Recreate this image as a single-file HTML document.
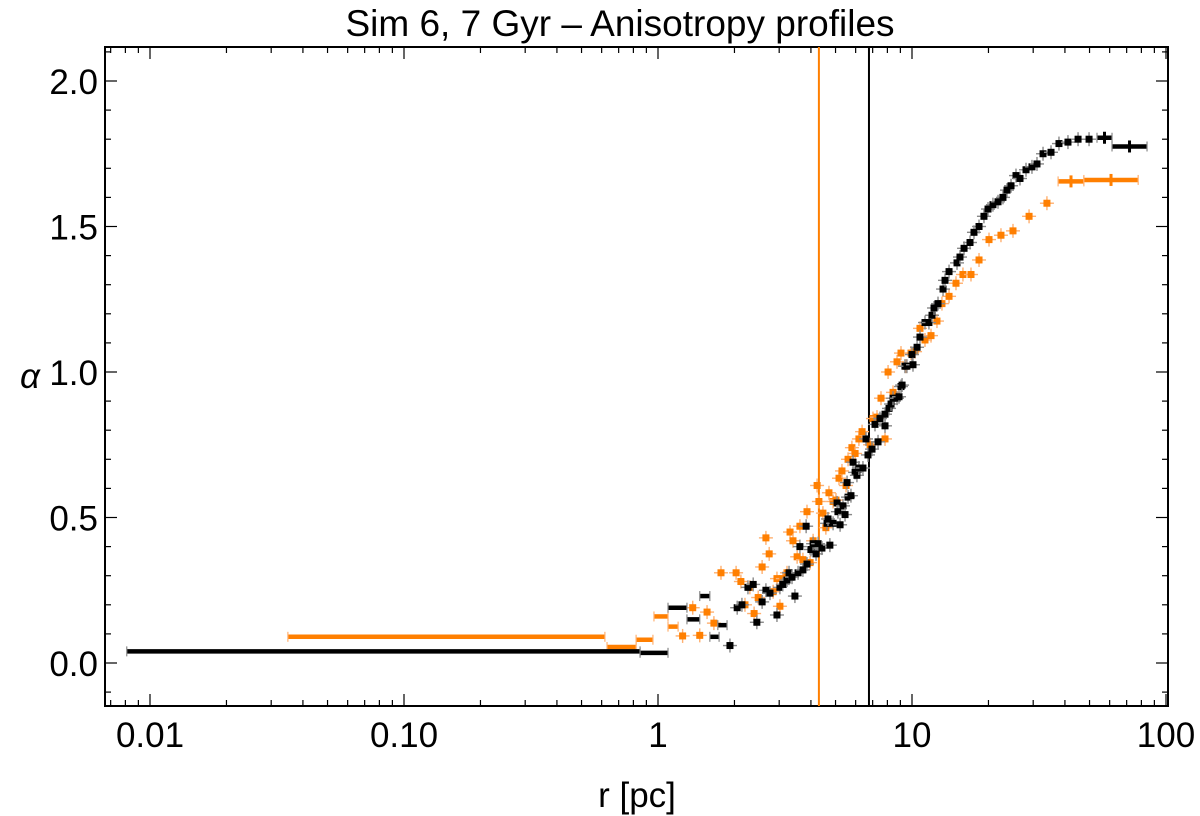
<!DOCTYPE html>
<html><head><meta charset="utf-8"><style>
body{margin:0;background:#fff;}
svg{display:block;font-family:"Liberation Sans",sans-serif;}
</style></head><body>
<svg id="chart" width="1200" height="816" viewBox="0 0 1200 816" xmlns="http://www.w3.org/2000/svg">
<text x="620" y="36" font-size="37" text-anchor="middle">Sim 6, 7 Gyr – Anisotropy profiles</text>
<text x="637" y="807" font-size="35" text-anchor="middle">r [pc]</text>
<text x="30" y="388" font-size="35" text-anchor="middle" font-style="italic">α</text>
<g id="axes"></g><g id="marks"></g>
</svg>
<script>
const blackR=[1.92,2.05,2.14,2.26,2.37,2.45,2.57,2.66,2.76,2.94,3.02,3.10,3.22,3.28,3.37,3.46,3.56,3.62,3.72,3.83,3.86,4.00,4.08,4.19,4.27,4.42,4.63,4.67,4.75,4.89,5.07,5.11,5.21,5.35,5.45,5.55,5.60,5.75,5.86,5.97,6.07,6.18,6.41,6.59,6.71,6.96,7.15,7.35,7.48,7.83,7.83,8.12,8.27,8.42,8.73,8.89,9.05,9.14,9.38,9.55,10.0,10.09,10.47,10.75,11.25,11.66,11.99,12.21,12.66,13.25,13.49,13.99,15.04,15.45,16.03,16.92,17.54,18.36,19.20,19.92,20.83,21.81,22.81,23.66,24.54,25.67,26.62,28.11,29.67,31.05,32.80,35.26,37.90,41.12,45.06,49.78];
const blackA=[0.06,0.19,0.20,0.26,0.27,0.14,0.21,0.25,0.24,0.165,0.26,0.27,0.285,0.31,0.295,0.23,0.31,0.40,0.32,0.47,0.34,0.39,0.41,0.375,0.41,0.395,0.48,0.495,0.405,0.48,0.55,0.52,0.475,0.54,0.51,0.62,0.57,0.575,0.69,0.655,0.645,0.67,0.67,0.77,0.715,0.735,0.82,0.76,0.84,0.815,0.855,0.875,0.89,0.91,0.91,0.915,0.95,0.955,1.02,1.02,1.06,1.025,1.085,1.12,1.17,1.17,1.195,1.22,1.235,1.285,1.315,1.345,1.375,1.395,1.425,1.445,1.48,1.5,1.535,1.56,1.575,1.585,1.6,1.625,1.64,1.675,1.665,1.695,1.705,1.715,1.75,1.755,1.785,1.79,1.80,1.80];
const blackBinLo=[0.0081,0.85,1.095,1.30,1.46,1.60,1.72,53.5,61.3];
const blackBinHi=[0.85,1.095,1.30,1.46,1.60,1.74,1.87,61.3,84.2];
const blackBinA=[0.04,0.035,0.19,0.15,0.23,0.09,0.13,1.805,1.775];
const orangeR=[1.25,1.37,1.46,1.56,1.66,1.77,2.03,2.12,2.20,2.30,2.39,2.48,2.57,2.66,2.74,2.84,2.94,3.02,3.10,3.22,3.31,3.40,3.53,3.62,3.72,3.86,3.97,4.08,4.23,4.30,4.46,4.58,4.71,4.89,5.02,5.16,5.30,5.50,5.60,5.80,5.97,6.18,6.36,6.84,7.02,7.28,7.55,7.83,8.05,8.42,8.73,9.05,9.46,9.91,10.28,10.75,11.25,11.88,12.54,13.12,13.99,14.90,15.87,17.07,18.36,20.10,22.40,24.98,28.90,33.98];
const orangeA=[0.093,0.19,0.095,0.175,0.137,0.31,0.31,0.28,0.20,0.26,0.17,0.225,0.33,0.43,0.375,0.245,0.29,0.195,0.29,0.31,0.45,0.42,0.365,0.47,0.355,0.52,0.345,0.42,0.61,0.555,0.515,0.465,0.585,0.555,0.56,0.635,0.66,0.61,0.70,0.74,0.72,0.77,0.795,0.75,0.84,0.845,0.91,0.77,1.0,0.93,1.035,1.065,1.02,1.065,1.07,1.15,1.11,1.125,1.175,1.235,1.26,1.305,1.335,1.335,1.385,1.455,1.47,1.485,1.535,1.58];
const orangeBinLo=[0.0349,0.63,0.82,0.964,1.095,37.6,47.5];
const orangeBinHi=[0.618,0.82,0.955,1.095,1.20,47.5,77.7];
const orangeBinA=[0.09,0.055,0.08,0.16,0.125,1.655,1.66];
const refLines=[4.3,6.77];
const xTickVals=[0.01,0.1,1,10,100];
const xTickLabels=["0.01","0.10","1","10","100"];
const yTickVals=[0,0.5,1,1.5,2];
const yTickLabels=["0.0","0.5","1.0","1.5","2.0"];

const L=105,R=1168,T=47,B=706;
const X=r=>658+254*Math.log10(r);
const Y=a=>663-291*a;
const NS="http://www.w3.org/2000/svg";
const axes=document.getElementById('axes'),marks=document.getElementById('marks');
function mk(p,tag,at){const e=document.createElementNS(NS,tag);for(const k in at)e.setAttribute(k,at[k]);p.appendChild(e);return e;}

const frame=mk(axes,'rect',{x:L,y:T,width:R-L,height:B-T,fill:'none',stroke:'#000','stroke-width':2});


for(let d=-3;d<=2;d++){for(let m=1;m<=9;m++){const v=m*Math.pow(10,d);const x=X(v);if(x<L||x>R)continue;const len=m===1?12:6;
 mk(axes,'line',{x1:x,x2:x,y1:B,y2:B-len,stroke:'#000','stroke-width':1.2});
 mk(axes,'line',{x1:x,x2:x,y1:T,y2:T+len,stroke:'#000','stroke-width':1.2});}}
xTickVals.forEach((v,i)=>{const t=mk(axes,'text',{x:X(v),y:747,'font-size':35,'text-anchor':'middle'});t.textContent=xTickLabels[i];
 
 });
for(let k=-1;k<=21;k++){const v=k/10;const y=Y(v);if(y<T||y>B)continue;const len=k%5===0?12:6;
 mk(axes,'line',{x1:L,x2:L+len,y1:y,y2:y,stroke:'#000','stroke-width':1.2});
 mk(axes,'line',{x1:R,x2:R-len,y1:y,y2:y,stroke:'#000','stroke-width':1.2});}
yTickVals.forEach((v,i)=>{const t=mk(axes,'text',{x:98,y:Y(v)+13,'font-size':35,'text-anchor':'end'});t.textContent=yTickLabels[i];
 
 });
const refCols=['#ff7f00','#000'];
refLines.forEach((v,i)=>{const l=mk(marks,'line',{x1:X(v),x2:X(v),y1:T,y2:B,stroke:refCols[i],'stroke-width':2});
 
 });
function bins(lo,hi,a,col,light,name){lo.forEach((v,i)=>{const g=mk(marks,'g',{});
 
 
 const x1=X(v),x2=X(hi[i]),y=Y(a[i]);
 mk(g,'line',{x1:x1,x2:x2,y1:y,y2:y,stroke:col,'stroke-width':4.5});
 mk(g,'line',{x1:x1,x2:x1,y1:y-5,y2:y+5,stroke:light,'stroke-width':1.2});
 mk(g,'line',{x1:x2,x2:x2,y1:y-5,y2:y+5,stroke:light,'stroke-width':1.2});
 if(a[i]>1){const xm=(x1+x2)/2;mk(g,'line',{x1:xm,x2:xm,y1:y-6,y2:y+6,stroke:col,'stroke-width':3});}});}
function pts(rs,as,col,light,name){rs.forEach((v,i)=>{const g=mk(marks,'g',{});
 
 
 const x=X(v),y=Y(as[i]);
 mk(g,'line',{x1:x-7,x2:x+7,y1:y,y2:y,stroke:light,'stroke-width':1.4});
 mk(g,'line',{x1:x,x2:x,y1:y-7,y2:y+7,stroke:light,'stroke-width':1.4});
 mk(g,'rect',{x:x-3.5,y:y-3.5,width:7,height:7,fill:col});});}
bins(orangeBinLo,orangeBinHi,orangeBinA,'#ff7f00','#ffb070','orange-bin');
pts(orangeR,orangeA,'#ff7f00','#ffb070','orange-point');
bins(blackBinLo,blackBinHi,blackBinA,'#000','#888','black-bin');
pts(blackR,blackA,'#000','#888','black-point');
</script>
</body></html>
